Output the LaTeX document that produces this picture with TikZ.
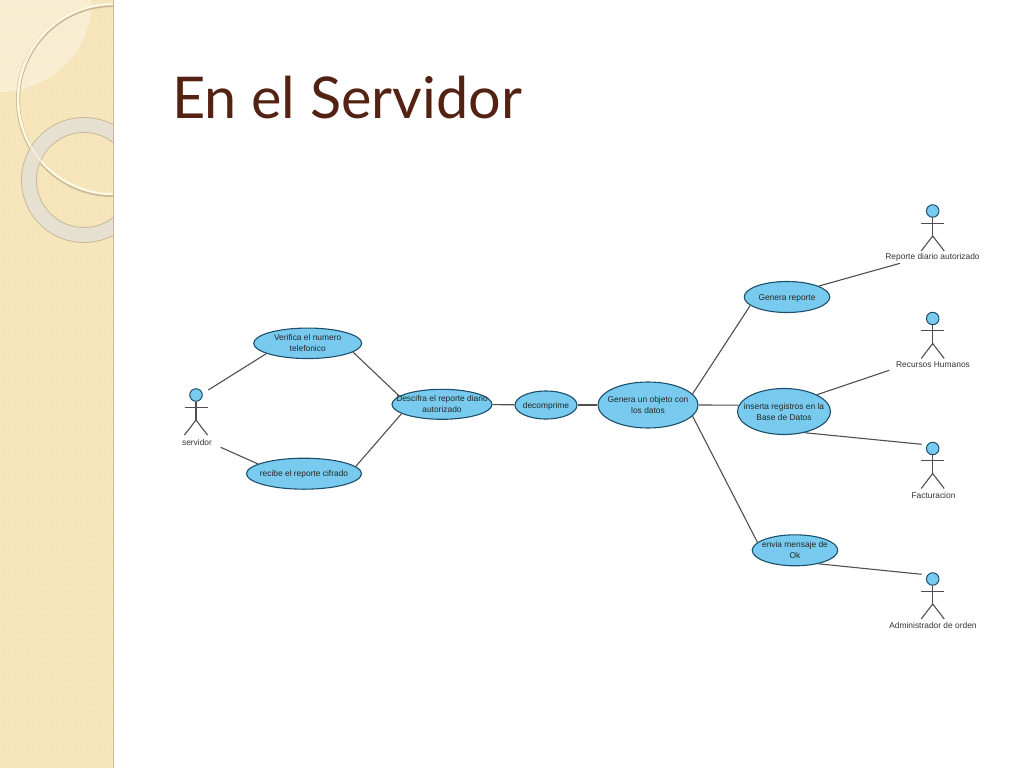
\documentclass[tikz,border=0pt]{standalone}
\usepackage{fontspec}
\setmainfont{Liberation Sans}
\newfontfamily\titlefont{Lato}
\usetikzlibrary{shapes}
\usetikzlibrary{positioning}
\usetikzlibrary{patterns}

\definecolor{bandfill}{HTML}{F5E3B6}
\definecolor{banddots}{HTML}{FBF2DA}
\definecolor{ringfill}{HTML}{E6E0D1}
\definecolor{ringedge}{HTML}{C9B893}
\definecolor{creamline}{HTML}{FDF7DF}
\definecolor{titlebrown}{HTML}{542212}
\definecolor{ucfill}{HTML}{78CBEE}
\definecolor{ucedge}{HTML}{1C4F6B}
\definecolor{linegray}{HTML}{4F4F4F}

\tikzset{
    usecase/.style={draw=ucedge, fill=ucfill, ellipse, line width=1.1pt, inner sep=0pt},
    actorhead/.style={draw=ucedge, fill=ucfill, circle, line width=1pt, minimum size=12.5pt, inner sep=0pt},
    actorlabel/.style={font=\fontsize{8.4}{11}\selectfont, text=black!80, inner sep=0pt},
    assoc/.style={draw=linegray, line width=1.1pt},
}

% text of a use case may be wider than its ellipse allows
\newcommand{\uctext}[1]{\makebox[0pt]{\smash{\raisebox{-2.9pt}{\fontsize{8.4}{11}\selectfont\color{black!85}\begin{tabular}[c]{@{}c@{}}#1\end{tabular}}}}}

% head at #2, label at #3
\newcommand{\actor}[4]{
    \node(#1)[actorhead] at (#2){};
    \draw[assoc] (#1.south) -- ++(0,19.5);
    \draw[assoc] (#1) ++(-11.5,12.4) -- ++(23,0);
    \draw[assoc] (#1) ++(-11.5,40) -- ++(11.5,-15) -- ++(11.5,15);
    \node(#1L)[actorlabel] at (#3){#4};
}

\begin{document}
\begin{tikzpicture}[x=1pt, y=-1pt]

    \useasboundingbox (0,0) rectangle (1024,768);

    % left band
    \begin{scope}
        \clip (0,0) rectangle (113.5,768);
        \fill[bandfill] (0,0) rectangle (114,768);
        \fill[pattern=crosshatch dots, pattern color=banddots] (0,0) rectangle (114,768);
        \fill[white, opacity=0.35] (0,0) circle (92);
        \draw[ringedge, line width=4pt] (113,100) circle (95);
        \draw[creamline, line width=2.5pt] (113,99) circle (95);
        \fill[ringfill, even odd rule] (84,180) circle (62.5) (84,180) circle (47.5);
        \draw[ringedge, line width=0.8pt] (84,180) circle (62.5) (84,180) circle (47.5);
        \draw[creamline, line width=2pt, opacity=0.6] (113,99) circle (95);
    \end{scope}
    \draw[ringedge, line width=1pt] (113.5,0) -- (113.5,768);

    \node(title)[anchor=base west, inner sep=0pt, text=titlebrown, font=\titlefont\fontsize{57.6}{60}\selectfont] at (172,118){En el Servidor};

    \node(verifica)[usecase, minimum width=108pt, minimum height=30.5pt] at (307.7,343.3){\uctext{Verifica el numero\\telefonico}};
    \node(recibe)[usecase, minimum width=115pt, minimum height=31pt] at (304,473.7){\uctext{recibe el reporte cifrado}};
    \node(descifra)[usecase, minimum width=100pt, minimum height=30pt] at (442,404.3){\uctext{Descifra el reporte diario\\autorizado}};
    \node(decomprime)[usecase, minimum width=62pt, minimum height=28pt] at (546,405){\uctext{decomprime}};
    \node(objeto)[usecase, minimum width=100pt, minimum height=46pt] at (648,405){\uctext{Genera un objeto con\\los datos}};
    \node(reporte)[usecase, minimum width=85.5pt, minimum height=31pt] at (787,297){\uctext{Genera reporte}};
    \node(inserta)[usecase, minimum width=93pt, minimum height=46pt] at (784,411.5){\uctext{inserta registros en la\\Base de Datos}};
    \node(envia)[usecase, minimum width=85.5pt, minimum height=31pt] at (795,550.3){\uctext{envia mensaje de\\Ok}};

    \actor{servidor}{196,395}{197,442}{servidor}
    \actor{autorizado}{932.7,211}{932.5,257}{Reporte diario autorizado}
    \actor{humanos}{932.7,318.5}{933,364.7}{Recursos Humanos}
    \actor{facturacion}{932.7,448.5}{933.5,495}{Facturacion}
    \actor{orden}{932.7,579}{933,625.7}{Administrador de orden}

    % the lines stop short of the actors
    \coordinate(servidorA) at (208.3,390);
    \coordinate(servidorB) at (220.7,447.3);
    \coordinate(autorizadoA) at (900,263.3);
    \coordinate(humanosA) at (889.3,370.3);
    \coordinate(facturacionA) at (921.7,444.3);
    \coordinate(ordenA) at (921.7,574.3);

    \draw[assoc] (servidorA) -- (verifica.194);
    \draw[assoc] (servidorB) -- (recibe.168);
    \draw[assoc] (verifica.349) -- (descifra.169);
    \draw[assoc] (recibe.8) -- (descifra.193);
    \draw[assoc] (descifra) -- (decomprime);
    \draw[assoc] (decomprime) -- (objeto);
    \draw[assoc] (objeto.14) -- (reporte.193);
    \draw[assoc] (objeto.east) -- (inserta.172);
    \draw[assoc] (objeto.346) -- (envia.168);
    \draw[assoc] (reporte.19) -- (autorizadoA);
    \draw[assoc] (inserta.27) -- (humanosA);
    \draw[assoc] (inserta.314) -- (facturacionA);
    \draw[assoc] (envia.330) -- (ordenA);

\end{tikzpicture}
\end{document}
